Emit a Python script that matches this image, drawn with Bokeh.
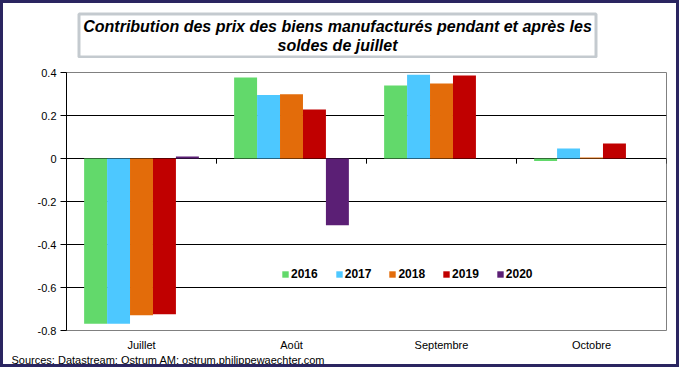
from bokeh.plotting import figure
from bokeh.layouts import column
from bokeh.models import (FactorRange, ColumnDataSource, FixedTicker, BoxAnnotation,
                          Label, Legend, LegendItem, Title)
from bokeh.transform import dodge
from bokeh.embed import file_html
from bokeh.resources import INLINE

nan = float("nan")
months = ["Juillet", "Août", "Septembre", "Octobre"]
years = ["2016", "2017", "2018", "2019", "2020"]
v2016 = [-0.769, 0.377, 0.340, -0.012]
v2017 = [-0.769, 0.295, 0.390, 0.047]
v2018 = [-0.729, 0.299, 0.349, 0.005]
v2019 = [-0.724, 0.228, 0.386, 0.070]
v2020 = [0.009, -0.310, nan, nan]
colors = ["#62D96B", "#4DC8FF", "#E36C0A", "#C00000", "#5B1F75"]
y_ticks = [-0.8, -0.6, -0.4, -0.2, 0.0, 0.2, 0.4]
y_tick_labels = ["-0.8", "-0.6", "-0.4", "-0.2", "0", "0.2", "0.4"]
title_lines = ["Contribution des prix des biens manufacturés pendant et après les",
               "soldes de juillet"]
source_text = "Sources: Datastream; Ostrum AM; ostrum.philippewaechter.com"

FONT = "Liberation Sans"
B = 3                      # outer frame thickness
W = 679 - 2 * B            # inner width
TOP_H = 55                 # title strip height
MAIN_H = 367 - 2 * B - TOP_H
FL, FT, FW, FH = 63, 14, 600, 258

# ---------------- title strip ----------------
t = figure(width=W, height=TOP_H, output_backend="svg", toolbar_location=None,
           x_range=(0, 1), y_range=(0, 1), x_axis_location=None, y_axis_location=None,
           min_border=0, min_border_left=0, min_border_right=0,
           min_border_top=0, min_border_bottom=0)
t.outline_line_color = None
t.grid.visible = False
t.background_fill_color = "white"
t.border_fill_color = "white"


def tx(cx):
    # frames of the column's plots are aligned: the strip's frame starts at FL
    return cx - FL


def ty(cy):
    return TOP_H - cy


t.add_layout(BoxAnnotation(left=tx(75.5), right=tx(592.5), top=ty(10.5), bottom=ty(53.5),
                           left_units="screen", right_units="screen",
                           top_units="screen", bottom_units="screen",
                           fill_alpha=0, line_color="#3C5060", line_width=3))
for k, line in enumerate(title_lines):
    t.add_layout(Label(x=tx(334), y=ty(23 + 18.5 * k), x_units="screen", y_units="screen",
                       text=line, text_align="center", text_baseline="middle",
                       text_font=FONT, text_font_size="16px",
                       text_font_style="bold italic", text_color="black"))

# ---------------- main chart ----------------
src = ColumnDataSource(dict(month=months, y2016=v2016, y2017=v2017, y2018=v2018,
                            y2019=v2019, y2020=v2020))

p = figure(width=W, height=MAIN_H, output_backend="svg", toolbar_location=None,
           x_range=FactorRange(factors=months, range_padding=0, factor_padding=0),
           y_range=(-0.8, 0.4),
           min_border_left=FL, min_border_top=FT,
           min_border_right=W - FL - FW, min_border_bottom=MAIN_H - FT - FH)
p.background_fill_color = "white"
p.border_fill_color = "white"
p.outline_line_color = "#808080"
p.outline_line_width = 1

bw = 0.153
renderers = []
for i, (yr, col) in enumerate(zip(years, colors)):
    r = p.vbar(x=dodge("month", (i - 2) * bw, range=p.x_range), top="y" + yr,
               bottom=0, width=bw, source=src, fill_color=col, line_color=None)
    renderers.append(r)

# category boundary ticks on the zero line
p.segment(x0=dodge("month", 0.5, range=p.x_range), x1=dodge("month", 0.5, range=p.x_range),
          y0=0, y1=-0.024, source=src, line_color="black", line_width=1)

p.yaxis.ticker = FixedTicker(ticks=y_ticks)
p.yaxis.major_label_overrides = dict(zip(y_ticks, y_tick_labels))
p.yaxis.axis_line_color = "black"
p.yaxis.major_tick_line_color = "black"
p.yaxis.major_tick_out = 6
p.yaxis.major_tick_in = 0
p.yaxis.minor_tick_line_color = None
p.yaxis.major_label_standoff = 4
p.yaxis.major_label_text_font = FONT
p.yaxis.major_label_text_font_size = "11px"
p.yaxis.major_label_text_color = "black"

p.xaxis.axis_line_color = None
p.xaxis.major_tick_line_color = None
p.xaxis.major_tick_out = 0
p.xaxis.major_label_standoff = 8
p.xaxis.major_label_text_font = FONT
p.xaxis.major_label_text_font_size = "11px"
p.xaxis.major_label_text_color = "black"

p.xgrid.grid_line_color = None
p.ygrid.ticker = FixedTicker(ticks=[-0.6, -0.4, -0.2, 0.0, 0.2])
p.ygrid.grid_line_color = "black"
p.ygrid.grid_line_width = 1

legend = Legend(items=[LegendItem(label=yr, renderers=[r]) for yr, r in zip(years, renderers)],
                orientation="horizontal", location=(215, 49),
                glyph_width=8, glyph_height=8, label_height=14, label_standoff=2,
                spacing=17, padding=0, margin=0,
                label_text_font=FONT, label_text_font_size="12px",
                label_text_font_style="bold", label_text_color="black",
                border_line_color=None, background_fill_alpha=0)
p.add_layout(legend)

p.add_layout(Title(text=source_text, align="left", offset=8 - FL, text_font=FONT,
                   text_font_size="11px", text_font_style="normal",
                   text_color="black", standoff=-4), "below")

layout = column(t, p, spacing=0,
                styles={"border": f"{B}px solid #2A2560", "box-sizing": "content-box",
                        "background-color": "white"})

open("out.html", "w").write(file_html(layout, INLINE))
